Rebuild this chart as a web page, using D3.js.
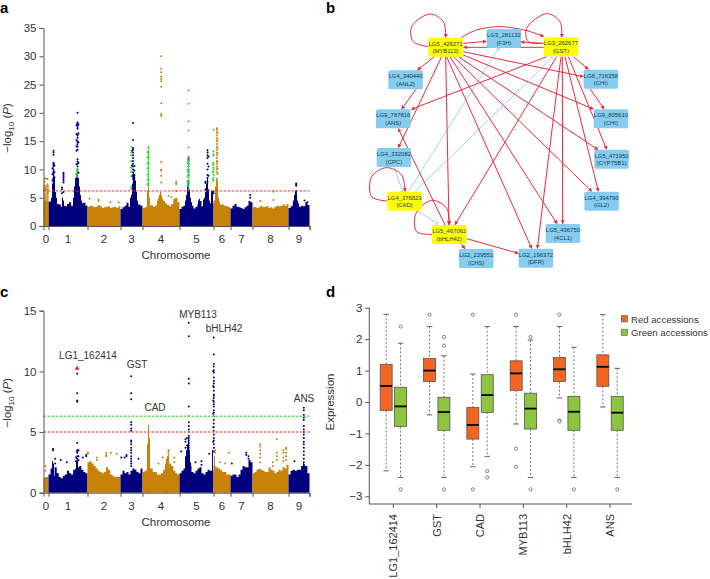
<!DOCTYPE html>
<html>
<head>
<meta charset="utf-8">
<script src="https://d3js.org/d3.v7.min.js"></script>
<style>
  html, body { margin: 0; padding: 0; background: #fff; }
  svg { display: block; }
  text { font-family: "Liberation Sans", Arial, sans-serif; fill: #333; }
</style>
</head>
<body>
<div id="chart"></div>
<script>
// ---- Manhattan data -------------------------------------------------------
var chromNames = ["0", "1", "2", "3", "4", "5", "6", "7", "8", "9"];
var chromStarts = [0, 5, 44, 77, 99, 136, 170, 187, 209, 245];
var genomeEnd = 266;

// top of the solid mass along each chromosome, evenly spaced
var massA = [
  [4.5, 4.6, 4.4, 4.3],
  [4.3, 4.4, 3.8, 4, 3.9, 3.8, 3.4, 3.6, 3.5, 3.9, 4.2, 3.6, 3.2, 3.6, 4, 4, 4, 4.1, 3.6, 3.3],
  [3.4, 3.6, 3.5, 3.3, 3.4, 3.7, 3.5, 3.2, 3.3, 3.4, 3.5, 3.2, 3.3, 3.4, 3.2, 3.5, 3.2],
  [3, 3.3, 3.6, 4.1, 3.4, 3.6, 3.8, 3.8, 3.8, 3.8, 3.6, 3.2],
  [3.2, 3.3, 3.5, 3.6, 3.7, 3.4, 3.6, 4, 4.4, 4.6, 4.4, 4, 3.7, 3.5, 3.9, 4.8, 5, 4.2, 3.4],
  [3, 3.4, 3.6, 3.9, 4, 3.9, 3.6, 3.1, 3.4, 3.9, 4.4, 3.5, 4.2, 4.4, 4.2, 4, 4, 3.8],
  [4.5, 4.5, 4.4, 3.8, 3.8, 3.6, 3.5, 3.3, 3.1],
  [3.1, 3.6, 3.9, 3.4, 3.3, 3.2, 3, 3.3, 3.6, 4.4, 4.2, 3.2],
  [3.3, 3.4, 3.2, 3.3, 3.6, 3.3, 3.4, 3.5, 3.2, 3.3, 3.1, 3.4, 3.6, 3.5, 3.6, 3.8, 3.6, 3.9, 3.6],
  [3.2, 3.5, 4, 4.2, 4, 3.4, 3.6, 3.5, 4.2, 3.7, 3.8]
];
var massC = [
  [1.2, 1.3, 1.3, 1.3],
  [1.5, 2, 1.4, 2.1, 1.6, 1.3, 1.2, 1.4, 1.5, 1.8, 1.6, 1.5, 1.9, 2, 2.1, 2.2, 1.9, 1.7, 1.6, 1.7],
  [2.5, 2.6, 2.4, 2.2, 2, 1.8, 1.7, 1.6, 1.7, 2.1, 1.9, 1.5, 1.4, 1.3, 1.3, 1.3, 1.3],
  [1.5, 1.8, 1.6, 1.7, 1.5, 1.8, 2, 1.9, 1.7, 1.6, 2, 1.8],
  [1.7, 1.8, 2, 2, 2, 1.7, 1.7, 1.5, 1.5, 1.6, 1.9, 2.2, 2.3, 2.4, 2.2, 1.8, 1.6, 1.5, 1.4],
  [1.6, 1.8, 2, 2.1, 2.2, 2.2, 1.7, 1.6, 1.8, 2, 2.1, 1.6, 1.5, 1.7, 1.9, 1.8, 1.8, 2],
  [2.2, 2.1, 2, 1.9, 1.7, 1.7, 1.5, 1.5, 1.4],
  [1.4, 1.5, 1.5, 1.3, 1.5, 1.9, 2.2, 2.1, 2.1, 2.7, 2.5, 1.4],
  [1.6, 1.7, 1.9, 2, 1.9, 1.8, 1.7, 1.7, 2.1, 1.9, 1.8, 1.6, 1.7, 1.9, 1.8, 2.1, 2, 2.3, 1.6],
  [1.5, 1.8, 1.9, 1.8, 1.9, 1.9, 2.2, 2.2, 2.2, 1.6, 1.3]
];

// narrow solid towers where the markers merge: [position, top]
var towersA = [
  [0.5, 6.8], [1.5, 6.5], [2.5, 5.5], [3.5, 6.5], [4.5, 7.2],
  [8, 5], [9, 7.5], [10, 9.5], [11, 8.5], [12, 6], [13, 5], [19, 5], [20, 4.5],
  [30, 5], [31, 7], [32, 8.5], [33, 9.3], [34, 9.5], [35, 8.5], [36, 7], [37, 5.5], [38, 4.5],
  [87, 5], [88, 5.5], [89, 7.5], [90, 9.5], [91, 9], [92, 8], [93, 6], [94, 4.5],
  [104, 6.2], [105, 7], [106, 5],
  [114, 4.5], [115, 5], [116, 5.5], [117, 6], [118, 5.5], [119, 4.8], [120, 4.5],
  [142, 4.5], [143, 5.5], [144, 7], [145, 8], [146, 6.5], [147, 5], [148, 4.2],
  [155, 4.5], [156, 4.8], [160, 4.7], [161, 5], [162, 6], [163, 7.5], [164, 8.5], [165, 6.5], [166, 4.5],
  [168, 6.2], [169, 6.2], [172, 7], [173, 8.5], [174, 8], [175, 5],
  [250, 4.5], [251, 5.5], [252, 6], [253, 5.8], [254, 4.5]
];
var towersC = [
  [9, 2.6], [10, 2.4], [33, 2.6], [34, 2.7],
  [104, 4], [105, 5.6], [106, 4.5],
  [122, 2.4], [123, 2.8], [124, 3], [125, 3.1],
  [142, 3], [143, 3.5], [144, 4], [145, 4.5], [146, 3.5], [147, 2.5],
  [169, 3.5], [171, 3],
  [260, 2.5], [261, 2.3]
];

// significant hits, one column per position: [position, [-log10 P values]]
var blueHitsA = [
  [10, [13.3, 13, 12.6, 11.2, 11, 10.8, 10.5, 10, 9.7, 9.4, 9, 8.5, 8.2, 7.8, 7.4, 7]],
  [9, [10.2, 9.2, 8.1]], [11, [10.7, 9.5, 8.6]],
  [20, [9.4, 9.2, 8.9, 8.6, 8.3, 8, 7.7, 6]], [18.5, [6.8, 6.5, 5.8]],
  [34, [20, 18.3, 18.1, 17.8, 17.5, 17.2, 16.2, 16, 15.6, 15, 14.7, 14.4, 14, 13.5, 11.8, 11.4, 11, 10.5, 10, 9.6]],
  [33, [17.8, 16.2, 15.2, 14.1, 13.3, 10.9, 9.2]], [35, [18, 16.4, 14.8, 11.2, 9.4]],
  [89.5, [18.2, 15.2, 13.8, 13.5, 13, 12.5, 12, 11.5, 11, 10.5, 10, 9.5, 9, 8.7, 8.3]],
  [91, [10.6, 9.8, 9, 8.5, 8]], [88.5, [13.3, 10.7, 8.8]],
  [145, [12, 11.8, 11.5, 11, 10.5, 10, 9.5, 9, 8, 7.5]],
  [164, [13.4, 13, 12.5, 12, 11, 10, 9, 8.5, 7.8]], [162, [7.8, 7.6, 6.5]], [165, [12.3, 10.5, 8.9]],
  [170, [6.1, 5.8]], [252.7, [7.5, 7.3, 7.1, 6.2, 6]], [206.7, [5.5, 5]], [261, [4.5]], [264, [4.2]]
];
var greenHitsA = [
  [33.5, [10, 9.7, 9.3, 9, 8.7]],
  [87.7, [14, 13, 12.5, 11.5, 10.3, 9.5, 8.8, 7, 6.6]],
  [105, [14, 13.7, 13.2, 13, 12.7, 12.3, 12, 11.7, 11.3, 11, 10.7, 10.3, 10, 9.6, 9.2, 8.8, 8.4, 8, 7.6, 7.2]],
  [104, [13, 12.2, 11.1, 10.2, 9.1, 8.2, 7.4]],
  [145, [24, 21.6, 18.5, 16.9, 13.9, 12.3, 11.9, 11.5, 11, 10.5, 10, 9.5, 9, 8.5, 8, 7.5, 7, 6.5]],
  [144, [11.2, 9.8, 8.8, 7.8, 7.2]],
  [170, [17, 13.2, 12.7, 12.4, 11.2, 10.8, 10.3, 10, 9.6, 9, 8.5, 8]], [169.3, [11, 9.5, 8.2]]
];
var orangeHitsA = [
  [1, [8.4, 7.8, 7.2, 6.8, 6.5]], [2.5, [8.4, 7, 6.6]], [4, [8.3, 7.4, 7, 6.4, 5.8]],
  [117.7, [30, 27.8, 27.2, 26.4, 26, 25.6, 24.6, 21.7, 19.8, 19.5, 11.3, 10, 9.8, 8.9, 7.7]],
  [132.7, [7.8, 7.6, 7.4, 6.2]],
  [173.3, [17.3, 17, 16.6, 16, 15.5, 15, 14.5, 14, 13.5, 13, 12.5, 12, 11.5, 11, 10.5, 10, 9.5, 8.3, 7.5, 7]],
  [174, [16.4, 15.2, 13.8, 12.8, 11.3, 10.2, 9.2]],
  [46, [4.8]], [55, [4.7, 4.4]], [75, [4.2]], [67, [4.2]], [230, [6.1, 4.6]], [217, [4.4]], [125, [5.3]], [128, [5.1]]
];
var blueHitsC = [
  [33.7, [9.8, 8.2, 7.6, 7.5, 4.1, 3.5, 3.4, 3.3, 3, 2.8, 2.6]], [35, [3.5, 3, 2.7]], [32.5, [2.9, 2.6]],
  [9.5, [3.6, 3.5]], [11.7, [2.8, 2.4]], [17.3, [2.7]], [23.3, [2.5]], [39.3, [2.9]], [42.7, [3.1, 3]],
  [87.7, [9.6, 8.2, 7.7, 5.8, 5.6, 5.3, 5.1, 4.3, 4.2, 4, 3.7, 3.5, 3.3, 3, 2.8, 2.6, 2.4, 2.2]],
  [83, [3.1, 3]], [81, [2.9]], [77.7, [2.9]], [95, [2.8]],
  [145.3, [14, 12.9, 9.4, 9, 7.1, 6.3, 5.8, 5.5, 5.2, 5, 4.7, 4.5, 4.3, 4.1, 3.9, 3.7, 3.5, 3.3]],
  [142, [4.4, 4.2, 3.7]], [143.5, [4.5, 3.9, 3.4]], [137.7, [3.4]], [152, [2.5]], [158, [2.6, 2.3]],
  [170.3, [12.8, 11.4, 10.6, 10.4, 10.1, 9.9, 9.5, 9.2, 9, 8.7, 8.4, 8.1, 8, 7.8, 7.5, 7.3, 7.1, 6.8, 6.6, 6.3, 6, 5.7, 5.4, 5.1, 4.8, 4.5, 4.3, 4, 3.7, 3.4]],
  [169.7, [10, 8.8, 7.6, 6.5, 5.4, 4.2]], [165.7, [3.2]],
  [260.3, [7, 6.8, 6.4, 6.2, 6, 5.5, 5.2, 5, 4.8, 4.5, 4.2, 4, 3.7, 3.4, 3.1, 2.8, 2.5, 2.3]],
  [188.3, [2.4]], [202.7, [3.3, 3.1]], [205, [3, 2.8]], [251, [2.6]]
];
var orangeHitsC = [
  [44.3, [3.3, 3.2]], [53.3, [2.9, 2.7]], [62.7, [3.3, 3.1, 3]], [67.3, [3.3]], [73.3, [3.2]],
  [125, [3.5, 3.4, 3.2]], [119.3, [2.9]], [130.7, [2.9, 2.5]], [115, [2.4]],
  [171.7, [3.5, 3.3]], [185.3, [3.3]], [176.7, [2.5]], [181.7, [2.4]],
  [216.7, [4, 3.8, 3.5, 3.2, 2.9, 2.5]], [233.3, [4.4, 3.3, 3, 2.7]], [240, [3.5, 3.3, 2.9, 2.6]],
  [242.7, [3.7, 3.6, 3.3, 3, 2.7]], [229.3, [2.5, 2.2]], [2, [2.2, 1.8]]
];
var redHitC = [[33.6, 10.25]];

var thresholdA = 6.2;
var thresholdsC = [{v: 6.3, c: "#5fe85f"}, {v: 5, c: "#f76a6a"}];

var geneLabels = ["LG1_162414", "GST", "CAD", "MYB113", "bHLH42", "ANS"];
var geneLabelPos = [44.5, 93.5, 111.5, 154.5, 180.5, 260.5];
var geneLabelVal = [11, 10.25, 6.75, 14.4, 13.25, 7.5];

// ---- Network data ---------------------------------------------------------
var nodeIds = ["LG5_426271", "LG3_281132", "LG3_262677", "LG4_340440", "LG8_716358", "LG9_787816", "LG9_805610",
  "LG4_332082", "LG5_471950", "LG4_376823", "LG4_394790", "LG5_467062", "LG5_436750", "LG2_229551", "LG2_196372"];
var nodeGenes = ["MYB113", "F3H", "GST", "ANL2", "CHI", "ANS", "CHI", "CPC", "CYP75B1", "CAD", "GL2", "bHLH42", "4CL1", "CHS", "DFR"];
var hubNodes = ["MYB113", "GST", "CAD", "bHLH42"];
// [from, to] by node index
var activates = [[0,0],[2,2],[9,9],[11,11],[0,2],[0,1],[2,1],[2,0],[0,3],[3,5],[0,7],[2,5],[0,4],[0,6],[0,8],[0,10],[0,12],[0,14],[0,11],
  [11,5],[2,11],[2,14],[2,12],[2,10],[2,8],[2,4],[4,6],[11,13],[11,14]];
var represses = [[9,1],[9,2],[7,9],[9,11]];

// ---- Box plot data --------------------------------------------------------
var boxGenes = ["LG1_162414", "GST", "CAD", "MYB113", "bHLH42", "ANS"];
var boxGroups = ["Red accessions", "Green accessions"];
var redLow = [-2.19, -0.41, -2.06, -0.7, 0.13, -0.16];
var redQ1 = [-0.27, 0.65, -1.18, 0.37, 0.65, 0.5];
var redMedian = [0.51, 1, -0.73, 0.91, 1.04, 1.12];
var redQ3 = [1.2, 1.39, -0.17, 1.31, 1.42, 1.5];
var redHigh = [2.79, 2.4, 0.89, 2.4, 2.4, 2.78];
var redOut = [[], [2.78], [2.78, -2.78], [2.78, -1.48, -2.06], [2.78, -0.59, -0.62], []];
var greenLow = [-2.4, -2.4, -1.73, -2.4, -2.4, -2.4];
var greenQ1 = [-0.78, -0.9, -0.33, -0.86, -0.9, -0.9];
var greenMedian = [-0.14, -0.32, 0.22, -0.21, -0.31, -0.34];
var greenQ3 = [0.47, 0.15, 0.87, 0.28, 0.18, 0.18];
var greenHigh = [1.87, 1.47, 2.4, 1.97, 1.74, 1.07];
var greenOut = [[2.4, -2.78], [2.07, 1.79, -2.78], [-2.2, -2.4], [2.07, -2.78], [-2.78], [-2.78]];

// ---- Page -----------------------------------------------------------------
var width = 710, height = 579;
var navy = "#00007f", ochre = "#c98208", hitGreen = "#22e02a", axisGrey = "#555";

var svg = d3.select("#chart").append("svg")
  .attr("width", width).attr("height", height);

[["a", 0, 13], ["b", 326, 13], ["c", 0, 297], ["d", 326, 297]].forEach(function(p) {
  svg.append("text").attr("x", p[1]).attr("y", p[2]).text(p[0])
    .attr("font-size", 15).attr("font-weight", "bold").style("fill", "#000");
});

function yTitle(g, x, y) {
  var t = g.append("text")
    .attr("transform", "translate(" + x + "," + y + ") rotate(-90)")
    .attr("text-anchor", "middle").attr("font-size", 11.5);
  t.append("tspan").text("\u2212log");
  t.append("tspan").text("10").attr("font-size", 8).attr("dy", 3);
  t.append("tspan").text(" (").attr("dy", -3);
  t.append("tspan").text("P").attr("font-style", "italic");
  t.append("tspan").text(")");
}

function styleAxis(g) {
  g.selectAll("path,line").style("stroke", axisGrey).style("stroke-width", 1);
  g.selectAll("text").attr("font-size", 11.5).style("fill", "#333");
}

function manhattan(opt) {
  var g = svg.append("g");
  var x = d3.scaleLinear().domain([0, genomeEnd]).range([43.5, 309.5]);
  var y = d3.scaleLinear().domain([0, opt.yMax]).range([opt.bottom, opt.top]);
  var chromColor = d3.scaleThreshold().domain(chromStarts.slice(1))
    .range(chromNames.map(function(n, i) { return i % 2 ? navy : ochre; }));

  // solid mass of non significant markers
  var area = d3.area()
    .x(function(d) { return x(d[0]); })
    .y0(y(0))
    .y1(function(d) { return y(d[1]); })
    .curve(d3.curveStepAfter);

  opt.mass.forEach(function(vals, c) {
    var start = chromStarts[c];
    var end = c < chromStarts.length - 1 ? chromStarts[c + 1] : genomeEnd;
    var pos = d3.scaleLinear().domain([0, vals.length - 1]).range([start, end]);
    g.append("path")
      .attr("d", area(vals.map(function(v, i) { return [pos(i), v]; })))
      .attr("fill", c % 2 ? navy : ochre);
  });

  g.append("g").selectAll("rect").data(opt.towers).enter().append("rect")
    .attr("x", function(d) { return x(d[0] - 0.5); })
    .attr("width", x(1) - x(0))
    .attr("y", function(d) { return y(d[1]); })
    .attr("height", function(d) { return y(0) - y(d[1]); })
    .attr("fill", function(d) { return chromColor(d[0]); });

  function drawHits(hits, color) {
    var pts = [];
    hits.forEach(function(col) {
      col[1].forEach(function(v) { pts.push([col[0], v]); });
    });
    g.append("g").selectAll("circle").data(pts).enter().append("circle")
      .attr("cx", function(d) { return x(d[0]); })
      .attr("cy", function(d) { return y(d[1]); })
      .attr("r", 1)
      .attr("fill", color);
  }
  opt.hits.forEach(function(h) { drawHits(h[0], h[1]); });

  // significance lines
  g.selectAll("line.threshold").data(opt.thresholds).enter().append("line")
    .attr("class", "threshold")
    .attr("x1", x(0)).attr("x2", x(genomeEnd))
    .attr("y1", function(d) { return y(d.v); })
    .attr("y2", function(d) { return y(d.v); })
    .attr("stroke", function(d) { return d.c; })
    .attr("stroke-width", opt.lineWidth)
    .attr("stroke-dasharray", "2.5,1.5");

  var yAxis = g.append("g").attr("transform", "translate(" + x(0) + ",0)")
    .call(d3.axisLeft(y).tickValues(opt.ticks).tickSizeOuter(0).tickSize(4).tickPadding(3).tickFormat(d3.format("d")));
  styleAxis(yAxis);

  var xAxis = g.append("g").attr("transform", "translate(0," + y(0) + ")")
    .call(d3.axisBottom(x).tickValues(chromStarts.slice(1).concat([genomeEnd])).tickSizeOuter(0).tickSize(4).tickFormat(""));
  styleAxis(xAxis);

  var mids = chromStarts.map(function(s, i) {
    return (s + (i < chromStarts.length - 1 ? chromStarts[i + 1] : genomeEnd)) / 2;
  });
  g.selectAll("text.chrom").data(chromNames).enter().append("text")
    .attr("class", "chrom")
    .attr("x", function(d, i) { return x(mids[i]); })
    .attr("y", y(0) + 17)
    .attr("text-anchor", "middle").attr("font-size", 11.5)
    .text(function(d) { return d; });

  g.append("text").attr("x", 176).attr("y", y(0) + 33)
    .attr("text-anchor", "middle").attr("font-size", 11.5).text("Chromosome");

  yTitle(g, 11, (opt.top + opt.bottom) / 2 + opt.titleShift);
  return {g: g, x: x, y: y};
}

// panel a
manhattan({
  mass: massA, towers: towersA, yMax: 35, top: 28, bottom: 226, ticks: d3.range(0, 36, 5), titleShift: 1,
  hits: [[blueHitsA, navy], [orangeHitsA, ochre], [greenHitsA, hitGreen]],
  thresholds: [{v: thresholdA, c: "#ee3333"}], lineWidth: 1
});

// panel c
var panelC = manhattan({
  mass: massC, towers: towersC, yMax: 15, top: 310.7, bottom: 492.7, ticks: [0, 5, 10, 15], titleShift: 1,
  hits: [[blueHitsC, navy], [orangeHitsC, ochre]],
  thresholds: thresholdsC, lineWidth: 1.6
});

panelC.g.selectAll("path.lead").data(redHitC).enter().append("path")
  .attr("class", "lead")
  .attr("d", d3.symbol().type(d3.symbolTriangle).size(10))
  .attr("transform", function(d) { return "translate(" + panelC.x(d[0]) + "," + panelC.y(d[1]) + ")"; })
  .attr("fill", "#f01c24");

panelC.g.selectAll("text.gene").data(geneLabels).enter().append("text")
  .attr("class", "gene")
  .attr("x", function(d, i) { return panelC.x(geneLabelPos[i]); })
  .attr("y", function(d, i) { return panelC.y(geneLabelVal[i]); })
  .attr("text-anchor", "middle").attr("font-size", 10)
  .text(function(d) { return d; });

// panel b, network. Layout in crop units, mapped by two scales
var netX = d3.scaleLinear().domain([0, 380 * 3]).range([330, 710]);
var netY = d3.scaleLinear().domain([0, 280 * 3]).range([0, 280]);

var nodeBox = [[295,113],[470,87],[641,112],[175,211],[761,209],[138,328],[791,328],[140,444],[793,449],[172,575],[763,575],[306,675],[647,672],[387,747],[566,746]];

var activateRoutes = [
  [[296,140],[250,125],[245,80],[300,42],[340,65],[347,112]],
  [[641,130],[595,125],[590,85],[650,41],[690,65],[695,112]],
  [[172,603],[125,590],[125,530],[170,503],[215,525],[225,574]],
  [[306,703],[260,695],[258,640],[305,601],[350,625],[357,674]],
  [[393,113],[440,90],[510,80],[590,92],[641,109]],
  [[400,130],[469,124]], [[641,130],[573,126]], [[641,142],[401,142]],
  [[313,170],[262,210]], [[258,268],[215,327]], [[335,170],[205,443]], [[650,170],[244,328]],
  [[400,155],[760,230]], [[400,165],[790,327]], [[385,170],[804,449]], [[370,170],[785,574]],
  [[360,170],[681,671]], [[350,170],[605,745]], [[347,170],[357,674]],
  [[345,675],[205,386]], [[680,170],[375,674]], [[693,170],[622,745]], [[697,170],[698,671]],
  [[705,170],[805,574]], [[715,170],[830,448]], [[730,170],[775,208]], [[780,266],[822,327]],
  [[392,731],[405,746]], [[410,716],[565,760]]
];
var repressRoutes = [[[235,575],[505,145]], [[255,575],[668,172]], [[192,501],[218,575]], [[262,632],[322,671]]];

var net = svg.append("g");
var defs = svg.append("defs");
defs.append("marker").attr("id", "arrow")
  .attr("viewBox", "0 0 8 8").attr("refX", 7).attr("refY", 4)
  .attr("markerWidth", 4).attr("markerHeight", 4).attr("markerUnits", "userSpaceOnUse")
  .attr("orient", "auto")
  .append("path").attr("d", "M0,0L8,4L0,8Z").attr("fill", "#ee2a3a");
defs.append("marker").attr("id", "tee")
  .attr("viewBox", "0 0 4 10").attr("refX", 3).attr("refY", 5)
  .attr("markerWidth", 2).attr("markerHeight", 5).attr("markerUnits", "userSpaceOnUse")
  .attr("orient", "auto")
  .append("path").attr("d", "M1,0H3V10H1Z").attr("fill", "#92d3f0");

var edgeLine = d3.line()
  .x(function(d) { return netX(d[0]); })
  .y(function(d) { return netY(d[1]); })
  .curve(d3.curveCatmullRom.alpha(0.5));

net.selectAll("path.rep").data(represses).enter().append("path")
  .attr("class", "rep")
  .attr("d", function(d, i) { return edgeLine(repressRoutes[i]); })
  .attr("fill", "none").attr("stroke", "#92d3f0").attr("stroke-width", 0.9)
  .attr("marker-end", "url(#tee)");

net.selectAll("path.act").data(activates).enter().append("path")
  .attr("class", "act")
  .attr("d", function(d, i) { return edgeLine(activateRoutes[i]); })
  .attr("fill", "none").attr("stroke", "#ee2a3a").attr("stroke-width", 1)
  .attr("marker-end", "url(#arrow)");

var nodes = net.selectAll("g.node").data(nodeIds).enter().append("g")
  .attr("class", "node")
  .attr("transform", function(d, i) { return "translate(" + netX(nodeBox[i][0]) + "," + netY(nodeBox[i][1]) + ")"; });

nodes.append("rect")
  .attr("width", 34.5).attr("height", 19).attr("rx", 1.6)
  .attr("fill", function(d, i) { return hubNodes.indexOf(nodeGenes[i]) >= 0 ? "#ffff00" : "#87cdf0"; });

nodes.append("text").attr("x", 17.25).attr("y", 8)
  .attr("text-anchor", "middle").attr("font-size", 5.9)
  .style("fill", "#123a50")
  .text(function(d) { return d; });
nodes.append("text").attr("x", 17.25).attr("y", 15.5)
  .attr("text-anchor", "middle").attr("font-size", 5.9)
  .style("fill", "#123a50")
  .text(function(d, i) { return "(" + nodeGenes[i] + ")"; });

// panel d, box plots
var boxData = [];
boxGenes.forEach(function(gene, i) {
  boxData.push({gene: gene, group: boxGroups[0], low: redLow[i], q1: redQ1[i], med: redMedian[i], q3: redQ3[i], high: redHigh[i], out: redOut[i]});
  boxData.push({gene: gene, group: boxGroups[1], low: greenLow[i], q1: greenQ1[i], med: greenMedian[i], q3: greenQ3[i], high: greenHigh[i], out: greenOut[i]});
});

var bx = d3.scaleBand().domain(boxGenes).range([371.7, 631.7]);
var inner = d3.scalePoint().domain(boxGroups).range([-7.2, 7.2]);
var by = d3.scaleLinear().domain([-3, 3]).range([496.3, 307.7]);
var boxColor = d3.scaleOrdinal().domain(boxGroups).range(["#f26522", "#8cc63f"]);
var boxWidth = 12, capWidth = 4.5;
function cx(d) { return bx(d.gene) + bx.bandwidth() / 2 + inner(d.group); }

var dPanel = svg.append("g");

var yAxisD = dPanel.append("g").attr("transform", "translate(369.3,0)")
  .call(d3.axisLeft(by).ticks(7).tickSizeOuter(0).tickSize(4).tickPadding(3));
styleAxis(yAxisD);
yAxisD.select(".domain").attr("d", "M0," + by(3) + "V504");
dPanel.append("text")
  .attr("transform", "translate(334,402) rotate(-90)")
  .attr("text-anchor", "middle").attr("font-size", 11.5).text("Expression");

var xAxisD = dPanel.append("g").attr("transform", "translate(0,504)")
  .call(d3.axisBottom(bx).tickSizeOuter(0).tickSize(4).tickFormat(""));
styleAxis(xAxisD);
xAxisD.select(".domain").attr("d", "M369.3,0H632");

dPanel.selectAll("text.geneTick").data(boxGenes).enter().append("text")
  .attr("class", "geneTick")
  .attr("transform", function(d) { return "translate(" + (bx(d) + bx.bandwidth() / 2 + 4) + ",514) rotate(-90)"; })
  .attr("text-anchor", "end").attr("font-size", 11)
  .text(function(d) { return d; });

var boxes = dPanel.selectAll("g.box").data(boxData).enter().append("g").attr("class", "box");

boxes.append("line")
  .attr("x1", cx).attr("x2", cx)
  .attr("y1", function(d) { return by(d.high); })
  .attr("y2", function(d) { return by(d.q3); })
  .attr("stroke", "#666").attr("stroke-width", 0.9).attr("stroke-dasharray", "2,2");
boxes.append("line")
  .attr("x1", cx).attr("x2", cx)
  .attr("y1", function(d) { return by(d.q1); })
  .attr("y2", function(d) { return by(d.low); })
  .attr("stroke", "#666").attr("stroke-width", 0.9).attr("stroke-dasharray", "2,2");

["high", "low"].forEach(function(k) {
  boxes.append("line")
    .attr("x1", function(d) { return cx(d) - capWidth / 2 - 0.5; })
    .attr("x2", function(d) { return cx(d) + capWidth / 2 + 0.5; })
    .attr("y1", function(d) { return by(d[k]); })
    .attr("y2", function(d) { return by(d[k]); })
    .attr("stroke", "#555").attr("stroke-width", 0.9);
});

boxes.append("rect")
  .attr("x", function(d) { return cx(d) - boxWidth / 2; })
  .attr("width", boxWidth)
  .attr("y", function(d) { return by(d.q3); })
  .attr("height", function(d) { return by(d.q1) - by(d.q3); })
  .attr("fill", function(d) { return boxColor(d.group); })
  .attr("stroke", "#555").attr("stroke-width", 0.8);

boxes.append("line")
  .attr("x1", function(d) { return cx(d) - boxWidth / 2; })
  .attr("x2", function(d) { return cx(d) + boxWidth / 2; })
  .attr("y1", function(d) { return by(d.med); })
  .attr("y2", function(d) { return by(d.med); })
  .attr("stroke", "#000").attr("stroke-width", 1.8);

boxes.selectAll("circle").data(function(d) {
    return d.out.map(function(v) { return {gene: d.gene, group: d.group, v: v}; });
  }).enter().append("circle")
  .attr("cx", cx)
  .attr("cy", function(d) { return by(d.v); })
  .attr("r", 1.6)
  .attr("fill", "#fff").attr("stroke", "#555").attr("stroke-width", 0.7);

// legend
var legend = dPanel.selectAll("g.legend").data(boxGroups).enter().append("g")
  .attr("class", "legend")
  .attr("transform", function(d, i) { return "translate(621.3," + (315.7 + i * 13.5) + ")"; });
legend.append("rect").attr("width", 6.2).attr("height", 6.2)
  .attr("fill", function(d) { return boxColor(d); })
  .attr("stroke", "#555").attr("stroke-width", 0.6);
legend.append("text").attr("x", 9.7).attr("y", 6.8)
  .attr("font-size", 9.6).text(function(d) { return d; });
</script>
</body>
</html>
